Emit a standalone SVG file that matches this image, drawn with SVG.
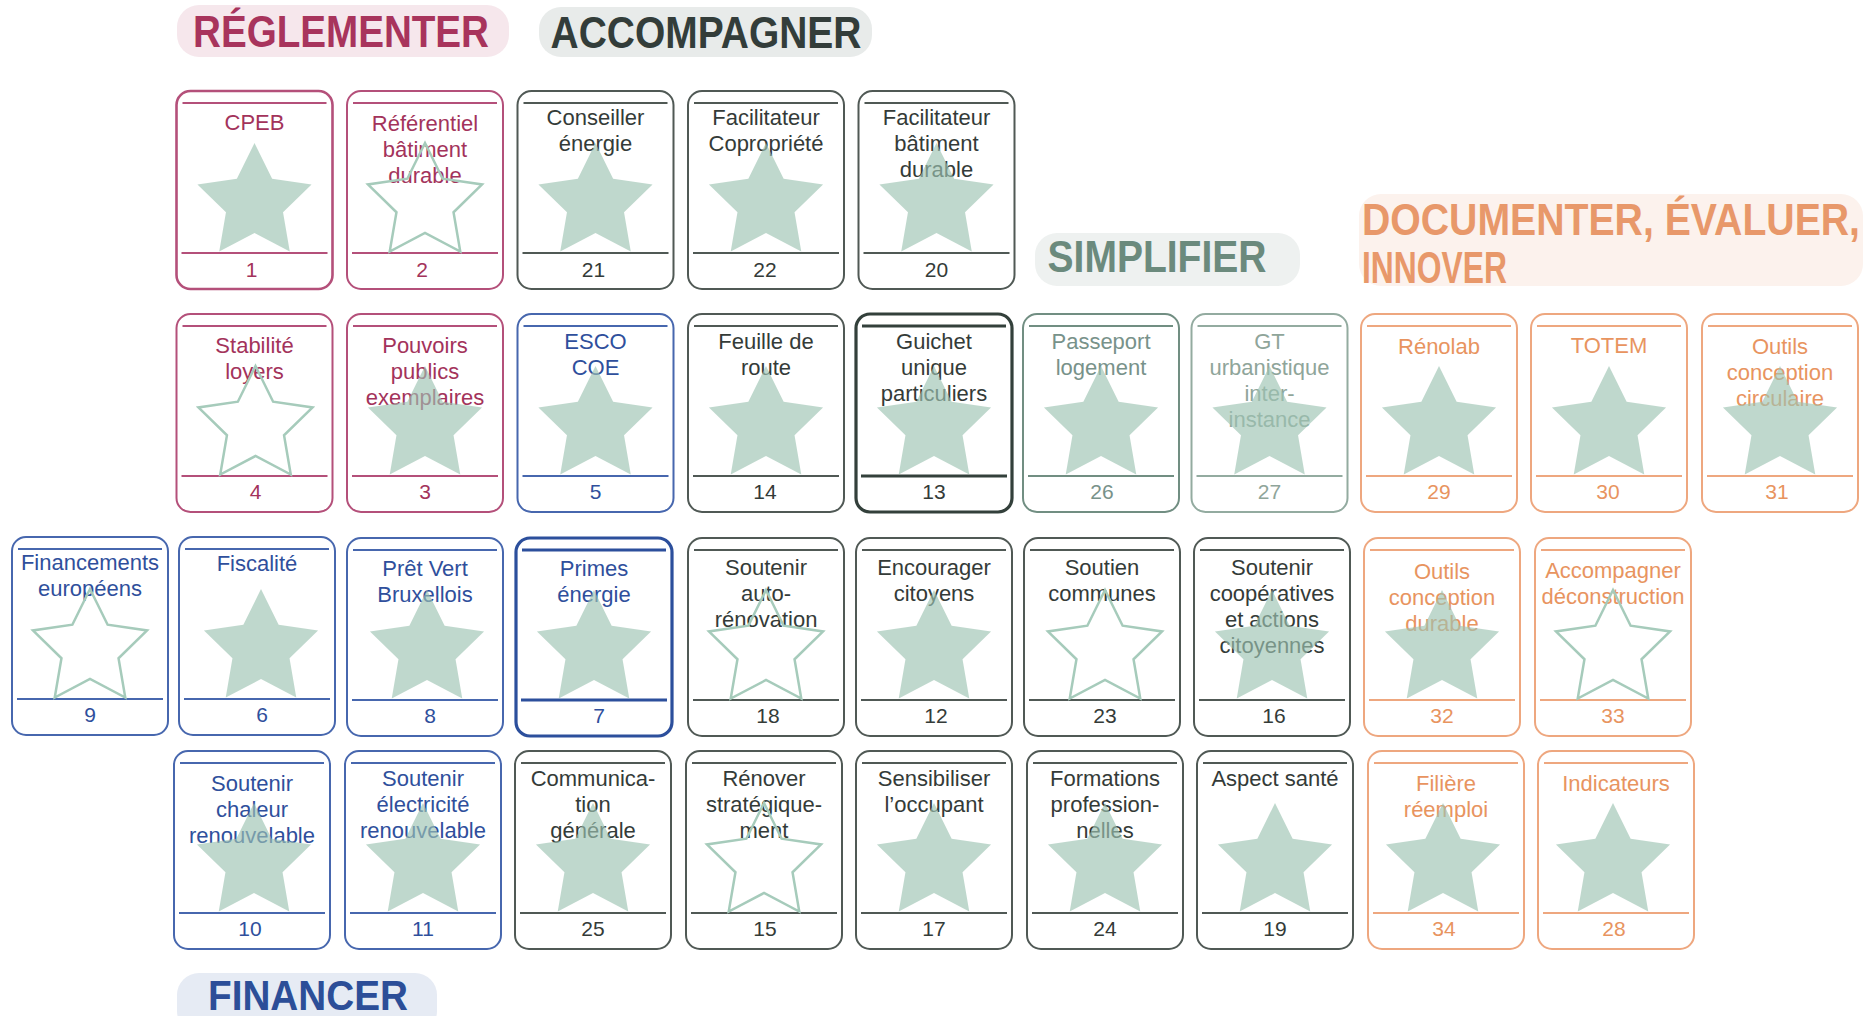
<svg xmlns="http://www.w3.org/2000/svg" xmlns:xlink="http://www.w3.org/1999/xlink" width="1870" height="1016" viewBox="0 0 1870 1016">
<defs>
<style>
text{font-family:"Liberation Sans",Arial,Helvetica,sans-serif}
.card rect{fill:#fff;stroke-width:2}
.card line{stroke-width:2.2}
.card .t{font-size:22px;text-anchor:middle}
.card .n{font-size:21px;text-anchor:middle}
.red rect,.red line{stroke:#b4507a}
.red text{fill:#a3335b}
.dark rect,.dark line{stroke:#505955}
.dark text{fill:#343b38}
.blue rect,.blue line{stroke:#4767ae}
.blue text{fill:#2f4f9c}
.simp rect,.simp line{stroke:#718e82}
.simp text{fill:#78928a}
.simp2 rect,.simp2 line{stroke:#93aba0}
.simp2 text{fill:#8fa59a}
.orange rect,.orange line{stroke:#eea77f}
.orange text{fill:#e8945f}
.bold rect{stroke-width:3.2}
.bold line{stroke-width:3}
.dark.bold rect,.dark.bold line{stroke:#33403b}
.blue.bold rect,.blue.bold line{stroke:#2c4f9c}
.sf{fill:#9dc3b2;opacity:0.65}
.so{fill:none;stroke:#a6cbbb;stroke-width:2.5}
.h{font-weight:bold;font-size:40px}
</style>
<path id="star" d="M0,-60 L17.63,-24.27 L57.06,-18.54 L28.53,9.27 L35.27,48.54 L0,30 L-35.27,48.54 L-28.53,9.27 L-57.06,-18.54 L-17.63,-24.27 Z"/>
</defs>
<rect width="1870" height="1016" fill="#fff"/>

<g id="header-reglementer">
<rect x="177" y="5" width="332" height="52" rx="22" fill="#f6e7ec"/>
<text class="h" fill="#a8345c" text-anchor="middle" transform="translate(341,47) scale(1,1.1)" textLength="296" lengthAdjust="spacingAndGlyphs">RÉGLEMENTER</text>
</g>
<g id="header-accompagner">
<rect x="539" y="7" width="333" height="50" rx="22" fill="#e8ebea"/>
<text class="h" fill="#333d3a" text-anchor="middle" transform="translate(706,48) scale(1,1.1)" textLength="311" lengthAdjust="spacingAndGlyphs">ACCOMPAGNER</text>
</g>
<g id="header-simplifier">
<rect x="1035" y="233" width="265" height="53" rx="22" fill="#eef1f0"/>
<text class="h" fill="#6b8a7d" text-anchor="middle" transform="translate(1157,272) scale(1,1.1)" textLength="219" lengthAdjust="spacingAndGlyphs">SIMPLIFIER</text>
</g>
<g id="header-documenter">
<rect x="1359" y="194" width="504" height="92" rx="22" fill="#fcf2ed"/>
<text class="h" fill="#e8986a" transform="translate(1362,235) scale(1,1.1)" textLength="498" lengthAdjust="spacingAndGlyphs">DOCUMENTER, ÉVALUER,</text>
<text class="h" fill="#e8986a" transform="translate(1362,283) scale(1,1.1)" textLength="145" lengthAdjust="spacingAndGlyphs">INNOVER</text>
</g>
<g id="header-financer">
<rect x="177" y="973" width="260" height="60" rx="22" fill="#e6ebf4"/>
<text class="h" fill="#2c4e98" text-anchor="middle" transform="translate(308,1010) scale(1,1.08)" textLength="200" lengthAdjust="spacingAndGlyphs">FINANCER</text>
</g>

<g id="card-1" class="card red" transform="translate(176.5,91)">
<rect x="0" y="0" width="156" height="198" rx="14" style="stroke-width:2.6"/>
<line x1="6" y1="12" x2="150" y2="12"/><line x1="5" y1="162" x2="151" y2="162"/>
<text class="t" x="78" y="39">CPEB</text>
<use href="#star" class="sf" x="78" y="112"/>
<text class="n" x="75" y="186">1</text>
</g>
<g id="card-2" class="card red" transform="translate(347,91)">
<rect x="0" y="0" width="156" height="198" rx="14"/>
<line x1="6" y1="12" x2="150" y2="12"/><line x1="5" y1="162" x2="151" y2="162"/>
<text class="t" x="78" y="40">Référentiel</text><text class="t" x="78" y="66">bâtiment</text><text class="t" x="78" y="92">durable</text>
<use href="#star" class="so" x="78" y="112"/>
<text class="n" x="75" y="186">2</text>
</g>
<g id="card-21" class="card dark" transform="translate(517.5,91)">
<rect x="0" y="0" width="156" height="198" rx="14"/>
<line x1="6" y1="12" x2="150" y2="12"/><line x1="5" y1="162" x2="151" y2="162"/>
<text class="t" x="78" y="34">Conseiller</text><text class="t" x="78" y="60">énergie</text>
<use href="#star" class="sf" x="78" y="112"/>
<text class="n" x="76" y="186">21</text>
</g>
<g id="card-22" class="card dark" transform="translate(688,91)">
<rect x="0" y="0" width="156" height="198" rx="14"/>
<line x1="6" y1="12" x2="150" y2="12"/><line x1="5" y1="162" x2="151" y2="162"/>
<text class="t" x="78" y="34">Facilitateur</text><text class="t" x="78" y="60">Copropriété</text>
<use href="#star" class="sf" x="78" y="112"/>
<text class="n" x="77" y="186">22</text>
</g>
<g id="card-20" class="card dark" transform="translate(858.5,91)">
<rect x="0" y="0" width="156" height="198" rx="14"/>
<line x1="6" y1="12" x2="150" y2="12"/><line x1="5" y1="162" x2="151" y2="162"/>
<text class="t" x="78" y="34">Facilitateur</text><text class="t" x="78" y="60">bâtiment</text><text class="t" x="78" y="86">durable</text>
<use href="#star" class="sf" x="78" y="112"/>
<text class="n" x="78" y="186">20</text>
</g>

<g id="card-4" class="card red" transform="translate(176.5,314)">
<rect x="0" y="0" width="156" height="198" rx="14"/>
<line x1="6" y1="12" x2="150" y2="12"/><line x1="5" y1="162" x2="151" y2="162"/>
<text class="t" x="78" y="39">Stabilité</text><text class="t" x="78" y="65">loyers</text>
<use href="#star" class="so" x="79" y="112"/>
<text class="n" x="79" y="185">4</text>
</g>
<g id="card-3" class="card red" transform="translate(347,314)">
<rect x="0" y="0" width="156" height="198" rx="14"/>
<line x1="6" y1="12" x2="150" y2="12"/><line x1="5" y1="162" x2="151" y2="162"/>
<text class="t" x="78" y="39">Pouvoirs</text><text class="t" x="78" y="65">publics</text><text class="t" x="78" y="91">exemplaires</text>
<use href="#star" class="sf" x="78" y="112"/>
<text class="n" x="78" y="185">3</text>
</g>
<g id="card-5" class="card blue" transform="translate(517.5,314)">
<rect x="0" y="0" width="156" height="198" rx="14"/>
<line x1="6" y1="12" x2="150" y2="12"/><line x1="5" y1="162" x2="151" y2="162"/>
<text class="t" x="78" y="35">ESCO</text><text class="t" x="78" y="61">COE</text>
<use href="#star" class="sf" x="78" y="112"/>
<text class="n" x="78" y="185">5</text>
</g>
<g id="card-14" class="card dark" transform="translate(688,314)">
<rect x="0" y="0" width="156" height="198" rx="14"/>
<line x1="6" y1="12" x2="150" y2="12"/><line x1="5" y1="162" x2="151" y2="162"/>
<text class="t" x="78" y="35">Feuille de</text><text class="t" x="78" y="61">route</text>
<use href="#star" class="sf" x="78" y="112"/>
<text class="n" x="77" y="185">14</text>
</g>
<g id="card-13" class="card dark bold" transform="translate(856,314)">
<rect x="0" y="0" width="156" height="198" rx="14"/>
<line x1="6" y1="12" x2="150" y2="12"/><line x1="5" y1="162" x2="151" y2="162"/>
<text class="t" x="78" y="35">Guichet</text><text class="t" x="78" y="61">unique</text><text class="t" x="78" y="87">particuliers</text>
<use href="#star" class="sf" x="78" y="112"/>
<text class="n" x="78" y="185">13</text>
</g>
<g id="card-26" class="card simp" transform="translate(1023,314)">
<rect x="0" y="0" width="156" height="198" rx="14"/>
<line x1="6" y1="12" x2="150" y2="12"/><line x1="5" y1="162" x2="151" y2="162"/>
<text class="t" x="78" y="35">Passeport</text><text class="t" x="78" y="61">logement</text>
<use href="#star" class="sf" x="78" y="112"/>
<text class="n" x="79" y="185">26</text>
</g>
<g id="card-27" class="card simp2" transform="translate(1191.5,314)">
<rect x="0" y="0" width="156" height="198" rx="14"/>
<line x1="6" y1="12" x2="150" y2="12"/><line x1="5" y1="162" x2="151" y2="162"/>
<text class="t" x="78" y="35">GT</text><text class="t" x="78" y="61">urbanistique</text><text class="t" x="78" y="87">inter-</text><text class="t" x="78" y="113">instance</text>
<use href="#star" class="sf" x="78" y="112"/>
<text class="n" x="78" y="185">27</text>
</g>
<g id="card-29" class="card orange" transform="translate(1361,314)">
<rect x="0" y="0" width="156" height="198" rx="14"/>
<line x1="6" y1="12" x2="150" y2="12"/><line x1="5" y1="162" x2="151" y2="162"/>
<text class="t" x="78" y="40">Rénolab</text>
<use href="#star" class="sf" x="78" y="112"/>
<text class="n" x="78" y="185">29</text>
</g>
<g id="card-30" class="card orange" transform="translate(1531,314)">
<rect x="0" y="0" width="156" height="198" rx="14"/>
<line x1="6" y1="12" x2="150" y2="12"/><line x1="5" y1="162" x2="151" y2="162"/>
<text class="t" x="78" y="39">TOTEM</text>
<use href="#star" class="sf" x="78" y="112"/>
<text class="n" x="77" y="185">30</text>
</g>
<g id="card-31" class="card orange" transform="translate(1702,314)">
<rect x="0" y="0" width="156" height="198" rx="14"/>
<line x1="6" y1="12" x2="150" y2="12"/><line x1="5" y1="162" x2="151" y2="162"/>
<text class="t" x="78" y="40">Outils</text><text class="t" x="78" y="66">conception</text><text class="t" x="78" y="92">circulaire</text>
<use href="#star" class="sf" x="78" y="112"/>
<text class="n" x="75" y="185">31</text>
</g>

<g id="card-9" class="card blue" transform="translate(12,537)">
<rect x="0" y="0" width="156" height="198" rx="14"/>
<line x1="6" y1="12" x2="150" y2="12"/><line x1="5" y1="162" x2="151" y2="162"/>
<text class="t" x="78" y="33">Financements</text><text class="t" x="78" y="59">européens</text>
<use href="#star" class="so" x="78" y="112"/>
<text class="n" x="78" y="185">9</text>
</g>
<g id="card-6" class="card blue" transform="translate(179,537)">
<rect x="0" y="0" width="156" height="198" rx="14"/>
<line x1="6" y1="12" x2="150" y2="12"/><line x1="5" y1="162" x2="151" y2="162"/>
<text class="t" x="78" y="34">Fiscalité</text>
<use href="#star" class="sf" x="82" y="112"/>
<text class="n" x="83" y="185">6</text>
</g>
<g id="card-8" class="card blue" transform="translate(347,538)">
<rect x="0" y="0" width="156" height="198" rx="14"/>
<line x1="6" y1="12" x2="150" y2="12"/><line x1="5" y1="162" x2="151" y2="162"/>
<text class="t" x="78" y="38">Prêt Vert</text><text class="t" x="78" y="64">Bruxellois</text>
<use href="#star" class="sf" x="80" y="112"/>
<text class="n" x="83" y="185">8</text>
</g>
<g id="card-7" class="card blue bold" transform="translate(516,538)">
<rect x="0" y="0" width="156" height="198" rx="14"/>
<line x1="6" y1="12" x2="150" y2="12"/><line x1="5" y1="162" x2="151" y2="162"/>
<text class="t" x="78" y="38">Primes</text><text class="t" x="78" y="64">énergie</text>
<use href="#star" class="sf" x="78" y="112"/>
<text class="n" x="83" y="185">7</text>
</g>
<g id="card-18" class="card dark" transform="translate(688,538)">
<rect x="0" y="0" width="156" height="198" rx="14"/>
<line x1="6" y1="12" x2="150" y2="12"/><line x1="5" y1="162" x2="151" y2="162"/>
<text class="t" x="78" y="37">Soutenir</text><text class="t" x="78" y="63">auto-</text><text class="t" x="78" y="89">rénovation</text>
<use href="#star" class="so" x="78" y="112"/>
<text class="n" x="80" y="185">18</text>
</g>
<g id="card-12" class="card dark" transform="translate(856,538)">
<rect x="0" y="0" width="156" height="198" rx="14"/>
<line x1="6" y1="12" x2="150" y2="12"/><line x1="5" y1="162" x2="151" y2="162"/>
<text class="t" x="78" y="37">Encourager</text><text class="t" x="78" y="63">citoyens</text>
<use href="#star" class="sf" x="78" y="112"/>
<text class="n" x="80" y="185">12</text>
</g>
<g id="card-23" class="card dark" transform="translate(1024,538)">
<rect x="0" y="0" width="156" height="198" rx="14"/>
<line x1="6" y1="12" x2="150" y2="12"/><line x1="5" y1="162" x2="151" y2="162"/>
<text class="t" x="78" y="37">Soutien</text><text class="t" x="78" y="63">communes</text>
<use href="#star" class="so" x="81" y="112"/>
<text class="n" x="81" y="185">23</text>
</g>
<g id="card-16" class="card dark" transform="translate(1194,538)">
<rect x="0" y="0" width="156" height="198" rx="14"/>
<line x1="6" y1="12" x2="150" y2="12"/><line x1="5" y1="162" x2="151" y2="162"/>
<text class="t" x="78" y="37">Soutenir</text><text class="t" x="78" y="63">coopératives</text><text class="t" x="78" y="89">et actions</text><text class="t" x="78" y="115">citoyennes</text>
<use href="#star" class="sf" x="78" y="112"/>
<text class="n" x="80" y="185">16</text>
</g>
<g id="card-32" class="card orange" transform="translate(1364,538)">
<rect x="0" y="0" width="156" height="198" rx="14"/>
<line x1="6" y1="12" x2="150" y2="12"/><line x1="5" y1="162" x2="151" y2="162"/>
<text class="t" x="78" y="41">Outils</text><text class="t" x="78" y="67">conception</text><text class="t" x="78" y="93">durable</text>
<use href="#star" class="sf" x="78" y="112"/>
<text class="n" x="78" y="185">32</text>
</g>
<g id="card-33" class="card orange" transform="translate(1535,538)">
<rect x="0" y="0" width="156" height="198" rx="14"/>
<line x1="6" y1="12" x2="150" y2="12"/><line x1="5" y1="162" x2="151" y2="162"/>
<text class="t" x="78" y="40">Accompagner</text><text class="t" x="78" y="66">déconstruction</text>
<use href="#star" class="so" x="78" y="112"/>
<text class="n" x="78" y="185">33</text>
</g>

<g id="card-10" class="card blue" transform="translate(174,751)">
<rect x="0" y="0" width="156" height="198" rx="14"/>
<line x1="6" y1="12" x2="150" y2="12"/><line x1="5" y1="162" x2="151" y2="162"/>
<text class="t" x="78" y="40">Soutenir</text><text class="t" x="78" y="66">chaleur</text><text class="t" x="78" y="92">renouvelable</text>
<use href="#star" class="sf" x="80" y="112"/>
<text class="n" x="76" y="185">10</text>
</g>
<g id="card-11" class="card blue" transform="translate(345,751)">
<rect x="0" y="0" width="156" height="198" rx="14"/>
<line x1="6" y1="12" x2="150" y2="12"/><line x1="5" y1="162" x2="151" y2="162"/>
<text class="t" x="78" y="35">Soutenir</text><text class="t" x="78" y="61">électricité</text><text class="t" x="78" y="87">renouvelable</text>
<use href="#star" class="sf" x="78" y="112"/>
<text class="n" x="78" y="185">11</text>
</g>
<g id="card-25" class="card dark" transform="translate(515,751)">
<rect x="0" y="0" width="156" height="198" rx="14"/>
<line x1="6" y1="12" x2="150" y2="12"/><line x1="5" y1="162" x2="151" y2="162"/>
<text class="t" x="78" y="35">Communica-</text><text class="t" x="78" y="61">tion</text><text class="t" x="78" y="87">générale</text>
<use href="#star" class="sf" x="78" y="112"/>
<text class="n" x="78" y="185">25</text>
</g>
<g id="card-15" class="card dark" transform="translate(686,751)">
<rect x="0" y="0" width="156" height="198" rx="14"/>
<line x1="6" y1="12" x2="150" y2="12"/><line x1="5" y1="162" x2="151" y2="162"/>
<text class="t" x="78" y="35">Rénover</text><text class="t" x="78" y="61">stratégique-</text><text class="t" x="78" y="87">ment</text>
<use href="#star" class="so" x="78" y="112"/>
<text class="n" x="79" y="185">15</text>
</g>
<g id="card-17" class="card dark" transform="translate(856,751)">
<rect x="0" y="0" width="156" height="198" rx="14"/>
<line x1="6" y1="12" x2="150" y2="12"/><line x1="5" y1="162" x2="151" y2="162"/>
<text class="t" x="78" y="35">Sensibiliser</text><text class="t" x="78" y="61">l’occupant</text>
<use href="#star" class="sf" x="78" y="112"/>
<text class="n" x="78" y="185">17</text>
</g>
<g id="card-24" class="card dark" transform="translate(1027,751)">
<rect x="0" y="0" width="156" height="198" rx="14"/>
<line x1="6" y1="12" x2="150" y2="12"/><line x1="5" y1="162" x2="151" y2="162"/>
<text class="t" x="78" y="35">Formations</text><text class="t" x="78" y="61">profession-</text><text class="t" x="78" y="87">nelles</text>
<use href="#star" class="sf" x="78" y="112"/>
<text class="n" x="78" y="185">24</text>
</g>
<g id="card-19" class="card dark" transform="translate(1197,751)">
<rect x="0" y="0" width="156" height="198" rx="14"/>
<line x1="6" y1="12" x2="150" y2="12"/><line x1="5" y1="162" x2="151" y2="162"/>
<text class="t" x="78" y="35">Aspect santé</text>
<use href="#star" class="sf" x="78" y="112"/>
<text class="n" x="78" y="185">19</text>
</g>
<g id="card-34" class="card orange" transform="translate(1368,751)">
<rect x="0" y="0" width="156" height="198" rx="14"/>
<line x1="6" y1="12" x2="150" y2="12"/><line x1="5" y1="162" x2="151" y2="162"/>
<text class="t" x="78" y="40">Filière</text><text class="t" x="78" y="66">réemploi</text>
<use href="#star" class="sf" x="75" y="112"/>
<text class="n" x="76" y="185">34</text>
</g>
<g id="card-28" class="card orange" transform="translate(1538,751)">
<rect x="0" y="0" width="156" height="198" rx="14"/>
<line x1="6" y1="12" x2="150" y2="12"/><line x1="5" y1="162" x2="151" y2="162"/>
<text class="t" x="78" y="40">Indicateurs</text>
<use href="#star" class="sf" x="75" y="112"/>
<text class="n" x="76" y="185">28</text>
</g>
</svg>
